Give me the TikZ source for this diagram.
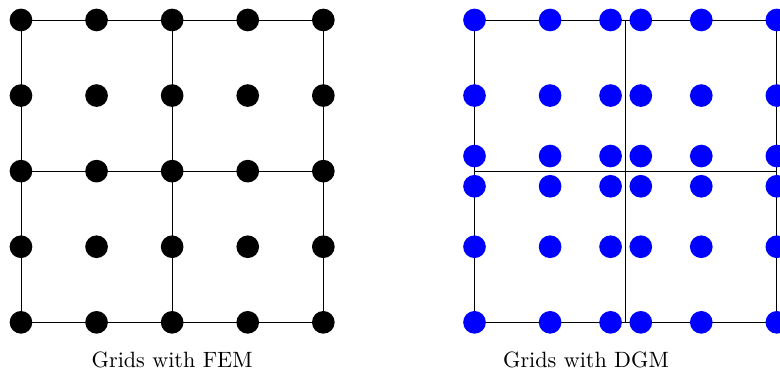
\documentclass[tikz,border=0pt]{standalone}
\usepackage{tikz}
\usetikzlibrary{positioning}

\begin{document}
\begin{tikzpicture}[
    gridline/.style={draw=black, line width=0.4pt},
    femdot/.style={fill=black},
    dgmdot/.style={fill=blue},
    caption/.style={font=\normalsize, anchor=base}
]
\useasboundingbox (-0.333,-0.794) rectangle (12.05,5.117);

% FEM grid
\draw[gridline] (0,0) grid[step=2.4] (4.8,4.8);
\foreach \x in {0,1.2,2.4,3.6,4.8}
  \foreach \y in {0,1.2,2.4,3.6,4.8}
    \fill[femdot] (\x,\y) circle (0.18);
\node[caption] (femlabel) at (2.4,-0.71) {Grids with FEM};

% DGM grid
\begin{scope}[xshift=7.2cm]
\draw[gridline] (0,0) grid[step=2.4] (4.8,4.8);
\foreach \x in {0,1.2,2.16,2.64,3.6,4.8}
  \foreach \y in {0,1.2,2.16,2.64,3.6,4.8}
    \fill[dgmdot] (\x,\y) circle (0.18);
\end{scope}
\node[caption] (dgmlabel) at (8.97,-0.71) {Grids with DGM};

\end{tikzpicture}
\end{document}
